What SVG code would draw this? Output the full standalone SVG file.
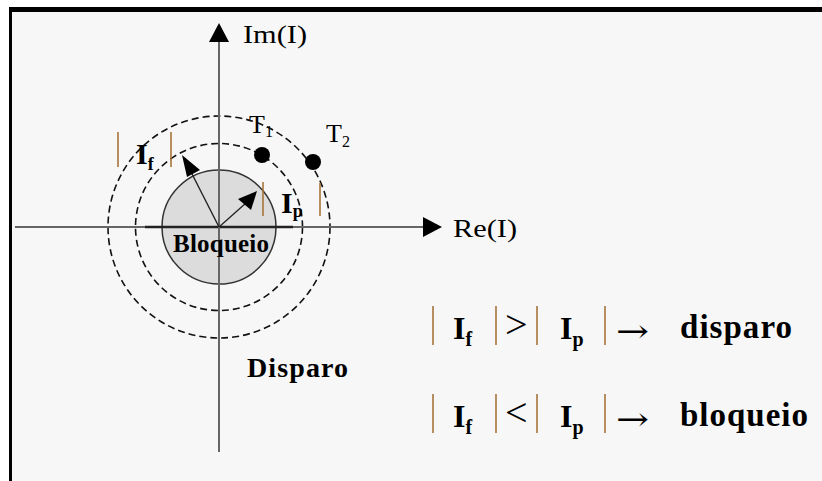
<svg xmlns="http://www.w3.org/2000/svg" width="822" height="481" viewBox="0 0 822 481">
<defs>
<style>
.t{font-family:"Liberation Serif","Times New Roman",serif;fill:#000}
.b{font-weight:bold}
.sym{font-family:"DejaVu Serif","Liberation Serif",serif;fill:#000}
.bar{stroke:#a8743a;stroke-width:1.6}
.dash{fill:none;stroke:#111;stroke-width:1.6;stroke-dasharray:7 4}
.axis{stroke:#666;stroke-width:2}
.vec{stroke:#222;stroke-width:1.4}
</style>
</defs>
<rect x="0" y="0" width="822" height="481" fill="#fff"/>
<rect x="11" y="11" width="811" height="470" fill="#f7f7f7"/>
<line x1="9" y1="9.5" x2="822" y2="9.5" stroke="#000" stroke-width="5"/>
<line x1="10.5" y1="9" x2="10.5" y2="481" stroke="#000" stroke-width="3"/>

<g id="regions">
<circle id="bloqueio-zone" cx="219" cy="227" r="57" fill="#dcdcdc" stroke="#333" stroke-width="1.5"/>
<circle id="inner-circle" class="dash" cx="219" cy="227" r="83.5"/>
<circle id="outer-circle" class="dash" cx="219" cy="227" r="111"/>
</g>

<g id="connectors">
<line class="axis" x1="15" y1="227" x2="425" y2="227"/>
<line x1="145" y1="227" x2="293" y2="227" stroke="#222" stroke-width="2.5"/>
<polygon points="423,217 442,227 423,237" fill="#000"/>
<line class="axis" x1="219" y1="452" x2="219" y2="40"/>
<polygon points="209,42 219,23 229,42" fill="#000"/>
<line class="vec" x1="219" y1="227" x2="190" y2="170"/>
<polygon points="182,155 200,170 187,177" fill="#000"/>
<line class="vec" x1="219" y1="227" x2="246" y2="203"/>
<polygon points="257,191 251,210 238,199" fill="#000"/>
</g>

<g id="T1">
<circle cx="262" cy="155" r="8" fill="#000"/>
<text class="t" x="249" y="133" font-size="26">T<tspan font-size="16" dy="4">1</tspan></text>
</g>
<g id="T2">
<circle cx="313" cy="162" r="8" fill="#000"/>
<text class="t" x="326" y="142" font-size="26">T<tspan font-size="16" dy="5">2</tspan></text>
</g>

<g id="If-label">
<line class="bar" x1="118" y1="132" x2="118" y2="167"/>
<text class="t b" x="136" y="164" font-size="30">I<tspan font-size="18" dy="6">f</tspan></text>
<line class="bar" x1="171" y1="132" x2="171" y2="167"/>
</g>
<g id="Ip-label">
<line class="bar" x1="263" y1="182" x2="263" y2="216"/>
<text class="t b" x="281" y="213" font-size="30">I<tspan font-size="18" dy="4">p</tspan></text>
<line class="bar" x1="320" y1="183" x2="320" y2="216"/>
</g>

<g id="axis-labels">
<text class="t" x="243" y="43" font-size="25" textLength="64" lengthAdjust="spacingAndGlyphs">Im(I)</text>
<text class="t" x="453" y="237" font-size="25" textLength="64" lengthAdjust="spacingAndGlyphs">Re(I)</text>
</g>

<g id="zone-labels">
<text class="t b" x="173" y="252" font-size="25" textLength="96">Bloqueio</text>
<text class="t b" x="247" y="377" font-size="28" textLength="101">Disparo</text>
</g>

<g id="rule-disparo">
<line class="bar" x1="433" y1="306" x2="433" y2="345"/>
<text class="t b" x="453" y="339" font-size="32">I<tspan font-size="20" dy="7">f</tspan></text>
<line class="bar" x1="496" y1="306" x2="496" y2="345"/>
<text class="t" x="505" y="338" font-size="40">&gt;</text>
<line class="bar" x1="537" y1="306" x2="537" y2="345"/>
<text class="t b" x="560" y="339" font-size="32">I<tspan font-size="20" dy="7">p</tspan></text>
<line class="bar" x1="605" y1="306" x2="605" y2="345"/>
<text class="sym" x="616" y="342" font-size="32" textLength="33" lengthAdjust="spacingAndGlyphs">→</text>
<text class="t b" x="680" y="338" font-size="33" textLength="112">disparo</text>
</g>

<g id="rule-bloqueio">
<line class="bar" x1="433" y1="394" x2="433" y2="433"/>
<text class="t b" x="453" y="427" font-size="32">I<tspan font-size="20" dy="7">f</tspan></text>
<line class="bar" x1="496" y1="394" x2="496" y2="433"/>
<text class="t" x="505" y="426" font-size="40">&lt;</text>
<line class="bar" x1="537" y1="394" x2="537" y2="433"/>
<text class="t b" x="560" y="427" font-size="32">I<tspan font-size="20" dy="7">p</tspan></text>
<line class="bar" x1="605" y1="394" x2="605" y2="433"/>
<text class="sym" x="616" y="430" font-size="32" textLength="33" lengthAdjust="spacingAndGlyphs">→</text>
<text class="t b" x="680" y="426" font-size="33" textLength="128">bloqueio</text>
</g>
</svg>
